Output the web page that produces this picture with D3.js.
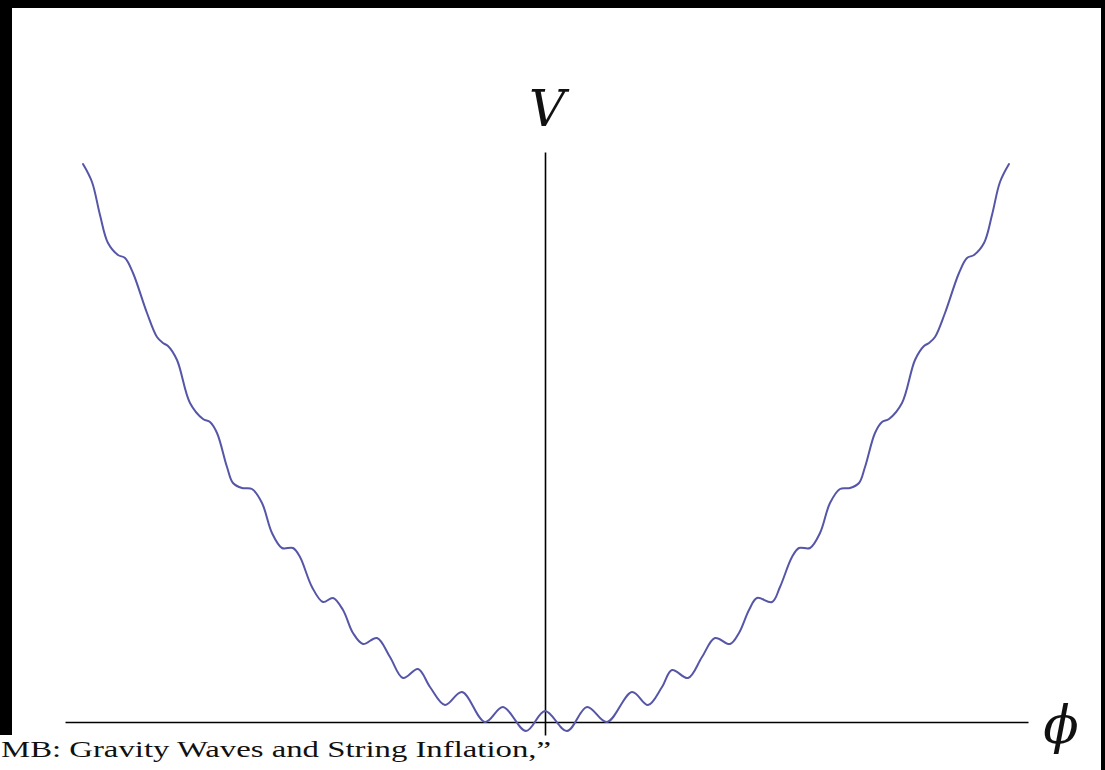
<!DOCTYPE html>
<html>
<head>
<meta charset="utf-8">
<script src="https://cdn.jsdelivr.net/npm/d3@7"></script>
<style>
  html, body { margin: 0; padding: 0; background: #fff; }
  svg { display: block; }
</style>
</head>
<body>
<svg width="1105" height="770"></svg>
<script>
// field values (phi) and potential (V), left to right
phiValues = [-4.62, -4.53, -4.45, -4.37, -4.27, -4.20, -4.12, -3.98, -3.88, -3.82, -3.77,
             -3.68, -3.55, -3.42, -3.35, -3.28, -3.18, -3.12, -3.03, -2.93, -2.83,
             -2.73, -2.63, -2.52, -2.45, -2.33, -2.22, -2.12, -2.02, -1.92, -1.82,
             -1.68, -1.55, -1.42, -1.27, -1.15, -1.00, -0.83, -0.60, -0.42, -0.19,
              0.00,  0.22,  0.42,  0.62,  0.87,  1.03,  1.17,  1.27,  1.43,  1.57,
              1.70,  1.85,  1.94,  2.04,  2.12,  2.27,  2.35,  2.47,  2.54,  2.65,
              2.75,  2.85,  2.95,  3.05,  3.14,  3.20,  3.30,  3.37,  3.44,  3.57,
              3.70,  3.79,  3.84,  3.90,  4.00,  4.14,  4.22,  4.29,  4.39,  4.47,
              4.55,  4.64];
potentialValues = [5.58, 5.40, 5.07, 4.79, 4.67, 4.64, 4.49, 4.09, 3.85, 3.79, 3.76,
                   3.62, 3.19, 3.03, 3.00, 2.89, 2.55, 2.39, 2.34, 2.33, 2.19,
                   1.89, 1.74, 1.74, 1.65, 1.35, 1.20, 1.24, 1.12, 0.89, 0.78,
                   0.84, 0.65, 0.44, 0.53, 0.35, 0.17, 0.30, 0.00, 0.15, -0.09,
                   0.11, -0.09, 0.15, 0.00, 0.30, 0.17, 0.35, 0.52, 0.44, 0.65,
                   0.84, 0.78, 0.89, 1.12, 1.24, 1.20, 1.35, 1.65, 1.74, 1.74,
                   1.89, 2.19, 2.33, 2.34, 2.39, 2.55, 2.89, 3.00, 3.03, 3.19,
                   3.62, 3.76, 3.79, 3.85, 4.09, 4.49, 4.64, 4.67, 4.79, 5.07,
                   5.40, 5.58];
phiExtent = [-4.8, 4.83];
vExtent = [-0.13, 5.7];
axisLabels = ["V", "\u03D5"];
captionText = "MB: Gravity Waves and String Inflation,\u201D";

class PotentialPlot {
  constructor(){
    let self = this;
    self.svg = d3.select("svg");
    self.width = +self.svg.attr("width");
    self.height = +self.svg.attr("height");
    self.x = d3.scaleLinear().domain(phiExtent).range([65, 1028]);
    self.y = d3.scaleLinear().domain([0, 5.7]).range([722, 152]);
    self.line = d3.line()
        .x(function(d) { return self.x(d.phi); })
        .y(function(d) { return self.y(d.v); })
        .curve(d3.curveCatmullRom.alpha(0.5));
    self.frame = self.svg.append("g");
    self.axes  = self.svg.append("g");
    self.curve = self.svg.append("path");
    self.labels = self.svg.append("g");
  }
}

PotentialPlot.prototype.draw = function(){
  let self = this;
  let data = phiValues.map(function(p, i) { return {phi: p, v: potentialValues[i]}; });

  // black edges of the scanned page
  self.frame.append("rect").attr("x", 0).attr("y", 0).attr("width", self.width).attr("height", 8).attr("fill", "#000");
  self.frame.append("rect").attr("x", 0).attr("y", 0).attr("width", 12).attr("height", 735).attr("fill", "#000");
  self.frame.append("rect").attr("x", 1101).attr("y", 0).attr("width", 4).attr("height", self.height).attr("fill", "#000");

  // horizontal phi axis
  self.axes.append("g")
      .attr("transform", "translate(0," + self.y(0) + ")")
      .call(d3.axisBottom(self.x).tickValues([]).tickSizeOuter(0))
    .select(".domain")
      .attr("stroke", "#000")
      .attr("stroke-width", 1.6);

  // vertical V axis
  self.axes.append("g")
      .attr("transform", "translate(" + self.x(0) + ",0)")
      .call(d3.axisLeft(d3.scaleLinear().domain(vExtent).range([735, 152])).tickValues([]).tickSizeOuter(0))
    .select(".domain")
      .attr("stroke", "#000")
      .attr("stroke-width", 1.6);

  self.curve
      .datum(data)
      .attr("fill", "none")
      .attr("stroke", "#5656a8")
      .attr("stroke-width", 2)
      .attr("stroke-linejoin", "round")
      .attr("stroke-linecap", "round")
      .attr("d", self.line);

  self.labels.append("text")
      .attr("x", self.x(0) + 2)
      .attr("y", 126)
      .attr("text-anchor", "middle")
      .attr("font-family", "DejaVu Serif")
      .attr("font-style", "italic")
      .attr("font-size", 50)
      .attr("fill", "#111")
      .text(axisLabels[0]);

  self.labels.append("text")
      .attr("x", 1061)
      .attr("y", 743)
      .attr("text-anchor", "middle")
      .attr("font-family", "DejaVu Serif")
      .attr("font-style", "italic")
      .attr("font-size", 52)
      .attr("fill", "#111")
      .text(axisLabels[1]);

  self.labels.append("text")
      .attr("x", 1)
      .attr("y", 757)
      .attr("font-family", "Liberation Serif")
      .attr("font-size", 24)
      .attr("fill", "#111")
      .attr("textLength", 550)
      .attr("lengthAdjust", "spacingAndGlyphs")
      .text(captionText);
}

plot = new PotentialPlot();
plot.draw();
</script>
</body>
</html>
